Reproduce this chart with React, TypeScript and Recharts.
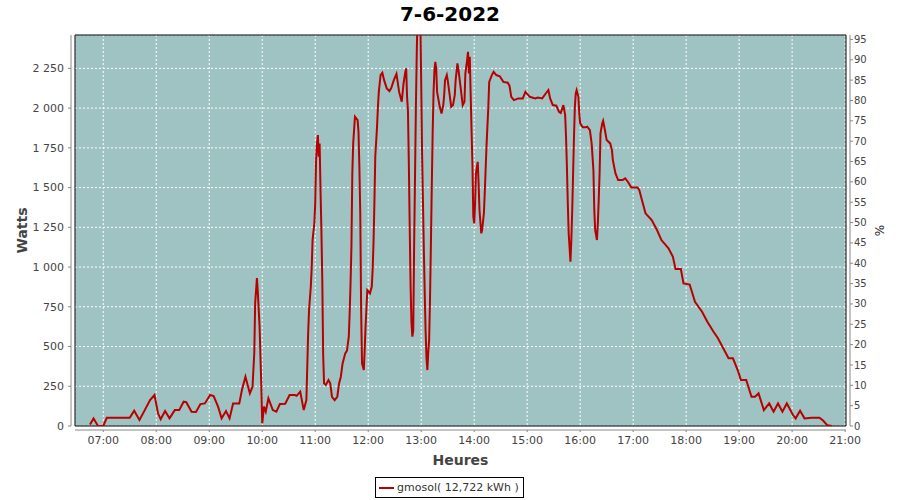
import { LineChart, Line, XAxis, YAxis, CartesianGrid, ReferenceArea } from "recharts";

// mesures de la journée (heure locale, puissance en W)
const times = [
  "06:45", "06:49", "06:54", "07:00", "07:04", "07:30", "07:35", "07:41", "07:47", "07:53",
  "07:58", "08:02", "08:05", "08:10", "08:15", "08:21", "08:26", "08:31", "08:34", "08:40",
  "08:45", "08:50", "08:55", "09:01", "09:05", "09:10", "09:14", "09:19", "09:23", "09:27",
  "09:34", "09:37", "09:41", "09:46", "09:49", "09:51", "09:52", "09:54", "09:55", "09:57",
  "09:58", "09:59", "10:00", "10:02", "10:04", "10:07", "10:12", "10:16", "10:20", "10:26",
  "10:31", "10:37", "10:39", "10:43", "10:47", "10:50", "10:52", "10:53", "10:55", "10:56",
  "10:57", "10:59", "11:00", "11:01", "11:02", "11:03", "11:04", "11:05", "11:06", "11:07",
  "11:08", "11:09", "11:10", "11:12", "11:15", "11:17", "11:19", "11:22", "11:25", "11:27",
  "11:29", "11:31", "11:34", "11:36", "11:38", "11:39", "11:40", "11:41", "11:42", "11:43",
  "11:45", "11:48", "11:49", "11:50", "11:51", "11:52", "11:53", "11:55", "11:56", "11:57",
  "11:59", "12:02", "12:04", "12:05", "12:06", "12:07", "12:08", "12:10", "12:11", "12:12",
  "12:14", "12:16", "12:18", "12:21", "12:24", "12:26", "12:29", "12:32", "12:35", "12:37",
  "12:38", "12:40", "12:42", "12:43", "12:44", "12:45", "12:46", "12:47", "12:48", "12:49",
  "12:50", "12:51", "12:52", "12:53", "12:54", "12:55", "12:56", "12:59", "13:01", "13:02",
  "13:03", "13:04", "13:05", "13:06", "13:07", "13:08", "13:09", "13:10", "13:11", "13:12",
  "13:13", "13:14", "13:15", "13:16", "13:17", "13:18", "13:19", "13:21", "13:23", "13:25",
  "13:26", "13:27", "13:29", "13:30", "13:32", "13:34", "13:36", "13:38", "13:39", "13:41",
  "13:42", "13:45", "13:47", "13:49", "13:50", "13:52", "13:53", "13:54", "13:55", "13:56",
  "13:57", "13:58", "13:59", "14:00", "14:01", "14:02", "14:04", "14:05", "14:06", "14:08",
  "14:09", "14:11", "14:12", "14:13", "14:14", "14:16", "14:17", "14:20", "14:22", "14:25",
  "14:29", "14:33", "14:38", "14:40", "14:42", "14:45", "14:50", "14:55", "14:58", "15:03",
  "15:09", "15:12", "15:17", "15:21", "15:24", "15:26", "15:29", "15:33", "15:36", "15:38",
  "15:41", "15:43", "15:44", "15:45", "15:46", "15:47", "15:49", "15:50", "15:51", "15:52",
  "15:53", "15:54", "15:55", "15:56", "15:58", "15:59", "16:00", "16:03", "16:06", "16:08",
  "16:11", "16:13", "16:15", "16:16", "16:17", "16:19", "16:20", "16:21", "16:22", "16:23",
  "16:25", "16:26", "16:28", "16:30", "16:34", "16:36", "16:37", "16:40", "16:43", "16:48",
  "16:51", "16:54", "16:58", "17:05", "17:07", "17:10", "17:14", "17:21", "17:27", "17:32",
  "17:40", "17:45", "17:48", "17:54", "17:57", "18:04", "18:10", "18:18", "18:24", "18:31",
  "18:36", "18:42", "18:48", "18:53", "18:59", "19:02", "19:08", "19:14", "19:18", "19:22",
  "19:28", "19:34", "19:39", "19:44", "19:49", "19:54", "20:01", "20:04", "20:09", "20:14",
  "20:22", "20:31", "20:35", "20:40", "20:45",
];

const watts = [
  10, 48, 0, 0, 52, 52, 96, 38, 100, 163,
  195, 80, 42, 94, 48, 100, 100, 153, 150, 90,
  88, 138, 142, 195, 188, 122, 48, 94, 48, 142,
  142, 226, 310, 205, 247, 459, 773, 930, 842, 625,
  436, 247, 17, 122, 90, 174, 100, 90, 138, 140,
  195, 195, 190, 216, 100, 163, 585, 730, 876, 992,
  1170, 1275, 1400, 1673, 1778, 1830, 1694, 1778, 1484, 1233,
  918, 447, 268, 258, 289, 268, 184, 163, 184, 268,
  310, 394, 457, 474, 562, 709, 897, 1128, 1589, 1778,
  1946, 1924, 1850, 1631, 1338, 730, 394, 352, 478, 625,
  855, 835, 876, 981, 1149, 1400, 1694, 1882, 2008, 2102,
  2208, 2222, 2176, 2124, 2107, 2124, 2176, 2215, 2102, 2061,
  2040, 2155, 2228, 2250, 2071, 1987, 1652, 1254, 876, 646,
  562, 600, 1138, 1568, 2008, 2354, 2620, 2600, 1715, 1411,
  1107, 835, 593, 426, 352, 467, 540, 803, 1149, 1516,
  1851, 2102, 2239, 2291, 2250, 2102, 2071, 2008, 1966, 2019,
  2082, 2176, 2208, 2176, 2092, 2008, 2019, 2082, 2176, 2281,
  2250, 2113, 2019, 2040, 2218, 2302, 2354, 2218, 2323, 2092,
  1862, 1652, 1317, 1275, 1400, 1589, 1662, 1526, 1358, 1212,
  1233, 1340, 1473, 1620, 1767, 2008, 2165, 2208, 2228, 2208,
  2200, 2165, 2160, 2140, 2071, 2050, 2061, 2061, 2102, 2071,
  2061, 2066, 2061, 2092, 2113, 2061, 2019, 2015, 1977, 1970,
  2019, 1956, 1820, 1631, 1400, 1212, 1033, 1170, 1358, 1589,
  1820, 2008, 2092, 2113, 2071, 1966, 1904, 1879, 1879, 1883,
  1862, 1778, 1610, 1358, 1233, 1170, 1275, 1421, 1589, 1841,
  1904, 1920, 1862, 1799, 1778, 1736, 1673, 1589, 1547, 1547,
  1558, 1537, 1501, 1501, 1484, 1421, 1338, 1296, 1233, 1170,
  1118, 1065, 987, 987, 897, 890, 782, 719, 656, 593,
  552, 489, 426, 426, 342, 289, 289, 184, 184, 205,
  100, 142, 90, 142, 90, 142, 69, 48, 96, 48,
  52, 52, 34, 4, 0,
];

const hourTicks = ["07:00", "08:00", "09:00", "10:00", "11:00", "12:00", "13:00", "14:00", "15:00", "16:00", "17:00", "18:00", "19:00", "20:00", "21:00"];
const wattTicks = [0, 250, 500, 750, 1000, 1250, 1500, 1750, 2000, 2250];
const pctTicks = [0, 5, 10, 15, 20, 25, 30, 35, 40, 45, 50, 55, 60, 65, 70, 75, 80, 85, 90, 95];

const seriesName = "gmosol( 12,722 kWh )";
const title = "7-6-2022";

// 100 % = 2560 W (crête installée)
const maxWatts = 2460;
const peakWatts = 2560;
const xStart = "06:28";
const xEnd = "21:01";

const toMin = (s: string) => {
  const [h, m] = s.split(":").map(Number);
  return h * 60 + m;
};
const fmtTime = (v: number) => {
  const h = Math.floor(v / 60);
  const m = Math.round(v % 60);
  return `${String(h).padStart(2, "0")}:${String(m).padStart(2, "0")}`;
};
const fmtWatts = (v: number) => String(v).replace(/\B(?=(\d{3})+(?!\d))/g, "\u00a0");

const data = times.map((t, i) => ({ t: toMin(t), w: watts[i] }));

const FONT = "'DejaVu Sans', sans-serif";
const tickStyle = { fill: "#444", fontSize: 11, fontFamily: FONT };
const axisGray = "#888";

export default function App() {
  return (
    <div style={{ position: "absolute", left: 0, top: 0, width: 900, height: 500, background: "#fff", fontFamily: FONT }}>
      <div
        style={{
          position: "absolute",
          top: 2,
          left: 0,
          width: 900,
          textAlign: "center",
          fontWeight: "bold",
          fontSize: 20,
          color: "#000",
        }}
      >
        {title}
      </div>

      <LineChart width={900} height={500} data={data} margin={{ top: 35, right: 0, bottom: 34, left: 0 }}>
        <CartesianGrid
          xAxisId="x"
          yAxisId="left"
          fill="#9fc3c3"
          stroke="#fff"
          strokeDasharray="2 2"
          strokeWidth={1}
        />
        <XAxis
          xAxisId="x"
          dataKey="t"
          type="number"
          domain={[toMin(xStart), toMin(xEnd)]}
          ticks={hourTicks.map(toMin)}
          tickFormatter={fmtTime}
          allowDataOverflow
          height={40}
          tickSize={2}
          tickMargin={8}
          tick={tickStyle}
          axisLine={{ stroke: axisGray, transform: "translate(0,4)" }}
          tickLine={{ stroke: axisGray, transform: "translate(0,4)" }}
          label={{ value: "Heures", position: "insideBottom", offset: 1, fill: "#444", fontSize: 14, fontWeight: "bold", fontFamily: FONT }}
        />
        <YAxis
          yAxisId="left"
          orientation="left"
          width={75}
          domain={[0, maxWatts]}
          ticks={wattTicks}
          tickFormatter={fmtWatts}
          allowDataOverflow
          tickSize={3}
          tickMargin={8}
          tick={tickStyle}
          axisLine={{ stroke: axisGray, transform: "translate(-4,0)" }}
          tickLine={{ stroke: axisGray, transform: "translate(-4,0)" }}
          label={{ value: "Watts", angle: -90, position: "center", dx: -15, fill: "#444", fontSize: 14, fontWeight: "bold", fontFamily: FONT }}
        />
        <YAxis
          yAxisId="right"
          orientation="right"
          width={54}
          domain={[0, (maxWatts / peakWatts) * 100]}
          ticks={pctTicks}
          allowDataOverflow
          tickSize={3}
          tickMargin={5}
          tick={{ ...tickStyle, fontSize: 10 }}
          axisLine={{ stroke: axisGray, transform: "translate(4,0)" }}
          tickLine={{ stroke: axisGray, transform: "translate(4,0)" }}
          label={{ value: "%", angle: -90, position: "center", dx: 7, fill: "#222", fontSize: 12, fontFamily: FONT }}
        />
        <ReferenceArea
          xAxisId="x"
          yAxisId="left"
          x1={toMin(xStart)}
          x2={toMin(xEnd)}
          y1={0}
          y2={maxWatts}
          fill="none"
          stroke="#000"
          strokeWidth={1}
        />
        <Line
          xAxisId="x"
          yAxisId="left"
          dataKey="w"
          name={seriesName}
          type="linear"
          stroke="#b80000"
          strokeWidth={2}
          dot={false}
          isAnimationActive={false}
        />
      </LineChart>

      <div
        style={{
          position: "absolute",
          left: 375,
          top: 477,
          height: 19,
          padding: "0 4px 0 3px",
          border: "1px solid #000",
          display: "flex",
          alignItems: "center",
          gap: 3,
          fontSize: 11,
          color: "#333",
          background: "#fff",
        }}
      >
        <span style={{ display: "inline-block", width: 15, height: 2, background: "#b80000" }} />
        <span>{seriesName}</span>
      </div>
    </div>
  );
}
